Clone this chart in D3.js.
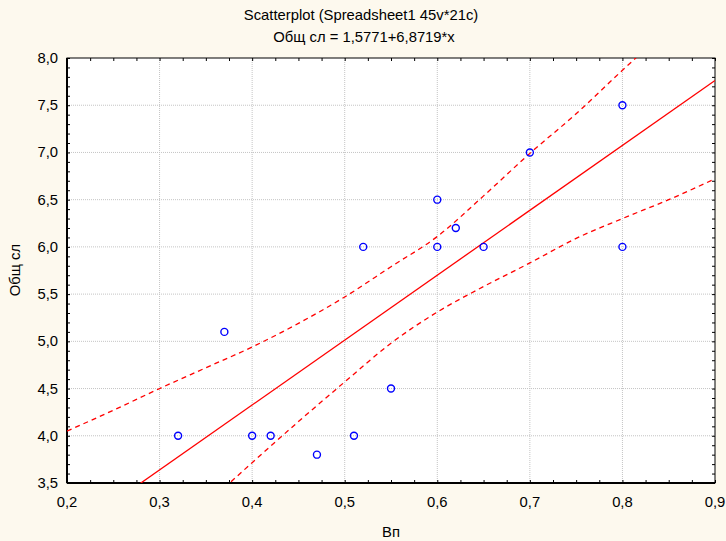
<!DOCTYPE html>
<html>
<head>
<meta charset="utf-8">
<script src="https://cdn.jsdelivr.net/npm/d3@7"></script>
<style>
  body { margin: 0; background: #fdf9ee; }
  text { font-family: "Liberation Sans", Arial, sans-serif; fill: #000; }
</style>
</head>
<body>
<div id="chart-area"></div>
<script>
// points
const vp = [0.32, 0.37, 0.40, 0.42, 0.47, 0.51, 0.52, 0.55, 0.60, 0.60, 0.62, 0.65, 0.70, 0.80, 0.80]
const obsh = [4.0, 5.1, 4.0, 4.0, 3.8, 4.0, 6.0, 4.5, 6.5, 6.0, 6.2, 6.0, 7.0, 7.5, 6.0]

// regression y = 1,5771 + 6,8719*x
const coef = [1.5771, 6.8719]

// 95% band
const upperX = [0.20, 0.25, 0.30, 0.35, 0.40, 0.45, 0.50, 0.55, 0.60, 0.65, 0.70, 0.75, 0.80, 0.82]
const upperY = [4.05, 4.27, 4.50, 4.72, 4.94, 5.19, 5.47, 5.79, 6.11, 6.54, 6.99, 7.41, 7.87, 8.05]
const lowerX = [0.37, 0.40, 0.45, 0.50, 0.55, 0.60, 0.65, 0.70, 0.75, 0.80, 0.85, 0.90]
const lowerY = [3.45, 3.715, 4.15, 4.57, 4.98, 5.31, 5.58, 5.83, 6.09, 6.30, 6.50, 6.72]

const xTicks = [0.2, 0.3, 0.4, 0.5, 0.6, 0.7, 0.8, 0.9]
const yTicks = [3.5, 4.0, 4.5, 5.0, 5.5, 6.0, 6.5, 7.0, 7.5, 8.0]

const MARGIN = { LEFT: 67, RIGHT: 11, TOP: 58, BOTTOM: 58 }
const WIDTH = 726 - MARGIN.LEFT - MARGIN.RIGHT
const HEIGHT = 541 - MARGIN.TOP - MARGIN.BOTTOM
const FONT = "14.8px"

const fmt = d => d3.format(".1f")(d).replace(".", ",")

const svg = d3.select("#chart-area")
  .append("svg")
  .attr("width", 726)
  .attr("height", 541)

svg.append("rect")
  .attr("width", 726).attr("height", 541)
  .attr("fill", "#fdf9ee")

const g = svg.append("g")
  .attr("transform", `translate(${MARGIN.LEFT}, ${MARGIN.TOP})`)

const x = d3.scaleLinear().domain([0.2, 0.9]).range([0, WIDTH])
const y = d3.scaleLinear().domain([3.5, 8.0]).range([HEIGHT, 0])

g.append("rect")
  .attr("width", WIDTH).attr("height", HEIGHT)
  .attr("fill", "#fff")

g.append("clipPath").attr("id", "clip")
  .append("rect").attr("width", WIDTH).attr("height", HEIGHT)

// grid
g.append("g")
  .selectAll("line")
  .data(xTicks.slice(1, -1))
  .join("line")
    .attr("x1", d => x(d)).attr("x2", d => x(d))
    .attr("y1", 0).attr("y2", HEIGHT)
    .attr("stroke", "#c4c4c4").attr("stroke-dasharray", "1,1")

g.append("g")
  .selectAll("line")
  .data(yTicks.slice(1, -1))
  .join("line")
    .attr("y1", d => y(d)).attr("y2", d => y(d))
    .attr("x1", 0).attr("x2", WIDTH)
    .attr("stroke", "#c4c4c4").attr("stroke-dasharray", "1,1")

// minor ticks, pointing inwards
const xMinor = d3.range(0.2, 0.9001, 0.025)
const yMinor = d3.range(3.5, 8.0001, 0.1)

g.append("g").attr("transform", `translate(0,${HEIGHT})`)
  .call(d3.axisBottom(x).tickValues(xMinor).tickSize(-3).tickFormat(""))
g.append("g")
  .call(d3.axisTop(x).tickValues(xMinor).tickSize(-3).tickFormat(""))
g.append("g")
  .call(d3.axisLeft(y).tickValues(yMinor).tickSize(-3).tickFormat(""))
g.append("g").attr("transform", `translate(${WIDTH},0)`)
  .call(d3.axisRight(y).tickValues(yMinor).tickSize(-3).tickFormat(""))
g.selectAll(".domain").remove()
g.selectAll(".tick line").attr("stroke", "#000")

// frame
g.append("rect")
  .attr("width", WIDTH).attr("height", HEIGHT)
  .attr("fill", "none").attr("stroke", "#000").attr("stroke-width", 1)
g.append("line")
  .attr("x1", 0).attr("x2", 0).attr("y1", 0).attr("y2", HEIGHT)
  .attr("stroke", "#000").attr("stroke-width", 2)
g.append("line")
  .attr("x1", 0).attr("x2", WIDTH).attr("y1", HEIGHT).attr("y2", HEIGHT)
  .attr("stroke", "#000").attr("stroke-width", 2)

// tick labels
g.selectAll("text.xt")
  .data(xTicks)
  .join("text")
    .attr("class", "xt")
    .attr("x", d => x(d))
    .attr("y", HEIGHT + 24)
    .attr("text-anchor", "middle")
    .attr("font-size", FONT)
    .text(fmt)

g.selectAll("text.yt")
  .data(yTicks)
  .join("text")
    .attr("class", "yt")
    .attr("x", -9)
    .attr("y", d => y(d) + 5)
    .attr("text-anchor", "end")
    .attr("font-size", FONT)
    .text(fmt)

// lines
const plot = g.append("g").attr("clip-path", "url(#clip)")

plot.append("line")
  .attr("x1", x(0.2)).attr("y1", y(coef[0] + coef[1] * 0.2))
  .attr("x2", x(0.9)).attr("y2", y(coef[0] + coef[1] * 0.9))
  .attr("stroke", "#ff0000").attr("stroke-width", 1.3)

const band = d3.line().x(d => x(d[0])).y(d => y(d[1])).curve(d3.curveMonotoneX)

plot.append("path")
  .attr("d", band(d3.zip(upperX, upperY)))
  .attr("fill", "none").attr("stroke", "#ff0000").attr("stroke-width", 1.3)
  .attr("stroke-dasharray", "5,4")

plot.append("path")
  .attr("d", band(d3.zip(lowerX, lowerY)))
  .attr("fill", "none").attr("stroke", "#ff0000").attr("stroke-width", 1.3)
  .attr("stroke-dasharray", "5,4")

// points
g.selectAll("circle")
  .data(d3.zip(vp, obsh))
  .join("circle")
    .attr("cx", d => x(d[0]))
    .attr("cy", d => y(d[1]))
    .attr("r", 3.5)
    .attr("fill", "none")
    .attr("stroke", "#0000ff")
    .attr("stroke-width", 1.4)

// titles
svg.append("text")
  .attr("x", 361).attr("y", 20)
  .attr("text-anchor", "middle").attr("font-size", FONT)
  .text("Scatterplot (Spreadsheet1 45v*21c)")

svg.append("text")
  .attr("x", 364).attr("y", 41.5)
  .attr("text-anchor", "middle").attr("font-size", FONT)
  .text("Общ сл = 1,5771+6,8719*x")

svg.append("text")
  .attr("x", 391).attr("y", 537)
  .attr("text-anchor", "middle").attr("font-size", FONT)
  .text("Вп")

svg.append("text")
  .attr("transform", "translate(20,270) rotate(-90)")
  .attr("text-anchor", "middle").attr("font-size", FONT)
  .text("Общ сл")
</script>
</body>
</html>
